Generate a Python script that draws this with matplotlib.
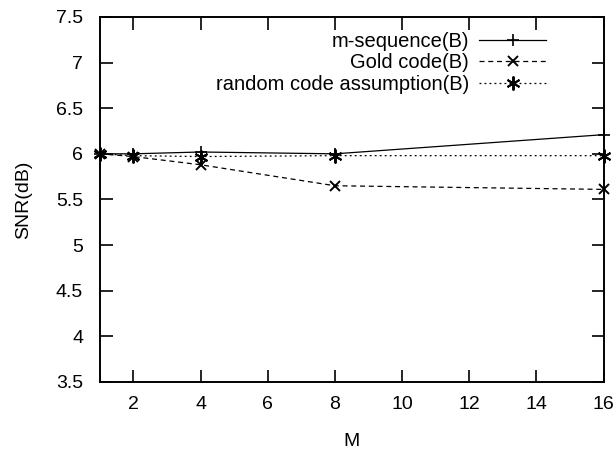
import numpy as np
import matplotlib
matplotlib.use('Agg')
import matplotlib.pyplot as plt

plt.rcParams['font.family'] = ['Liberation Sans', 'DejaVu Sans']

# SNR vs M
M = [1, 2, 4, 8, 16]
snr_mseq = [6.0, 6.0, 6.02, 6.0, 6.21]
snr_gold = [6.0, 5.97, 5.88, 5.65, 5.61]
snr_random = [6.0, 5.98, 5.97, 5.98, 5.98]

xticks = [2, 4, 6, 8, 10, 12, 14, 16]
yticks = [3.5, 4, 4.5, 5, 5.5, 6, 6.5, 7, 7.5]

fig = plt.figure(figsize=(6.16, 4.59), dpi=100)
ax = fig.add_axes([0.162, 0.168, 0.818, 0.795])

ax.plot(M, snr_mseq, color='black', linestyle='-', linewidth=0.9, marker='+',
        markersize=9, markeredgewidth=1.2, label='m-sequence(B)', clip_on=False)
ax.plot(M, snr_gold, color='black', linestyle=(0, (4, 3)), linewidth=0.9, marker='x',
        markersize=7, markeredgewidth=1.4, label='Gold code(B)', clip_on=False)
ax.plot(M, snr_random, color='black', linestyle=(0, (1.5, 2.5)), linewidth=0.9,
        marker=(6, 2, 0), markersize=10, markeredgewidth=1.4,
        label='random code assumption(B)', clip_on=False)

ax.set_xlim(1, 16)
ax.set_ylim(3.5, 7.5)
ax.set_xticks(xticks)
ax.set_yticks(yticks)
ax.set_yticklabels(['3.5', '4', '4.5', '5', '5.5', '6', '6.5', '7', '7.5'])
ax.tick_params(direction='in', top=True, right=True, length=9, width=1.2,
               labelsize=14)
ax.tick_params(axis='y', pad=12)
ax.tick_params(axis='x', pad=10)
for s in ax.spines.values():
    s.set_linewidth(1.4)

ax.set_xlabel('M', fontsize=14)
ax.set_ylabel('SNR(dB)', fontsize=14)
ax.xaxis.set_label_coords(0.5, -0.14)
ax.yaxis.set_label_coords(-0.134, 0.5)

ax.legend(loc='upper right', bbox_to_anchor=(0.885, 0.96), frameon=False,
          markerfirst=False, fontsize=14.5, handlelength=3.3, handletextpad=0.5,
          labelspacing=0.14, borderaxespad=0, borderpad=0)

plt.savefig('out.png', dpi=100)
